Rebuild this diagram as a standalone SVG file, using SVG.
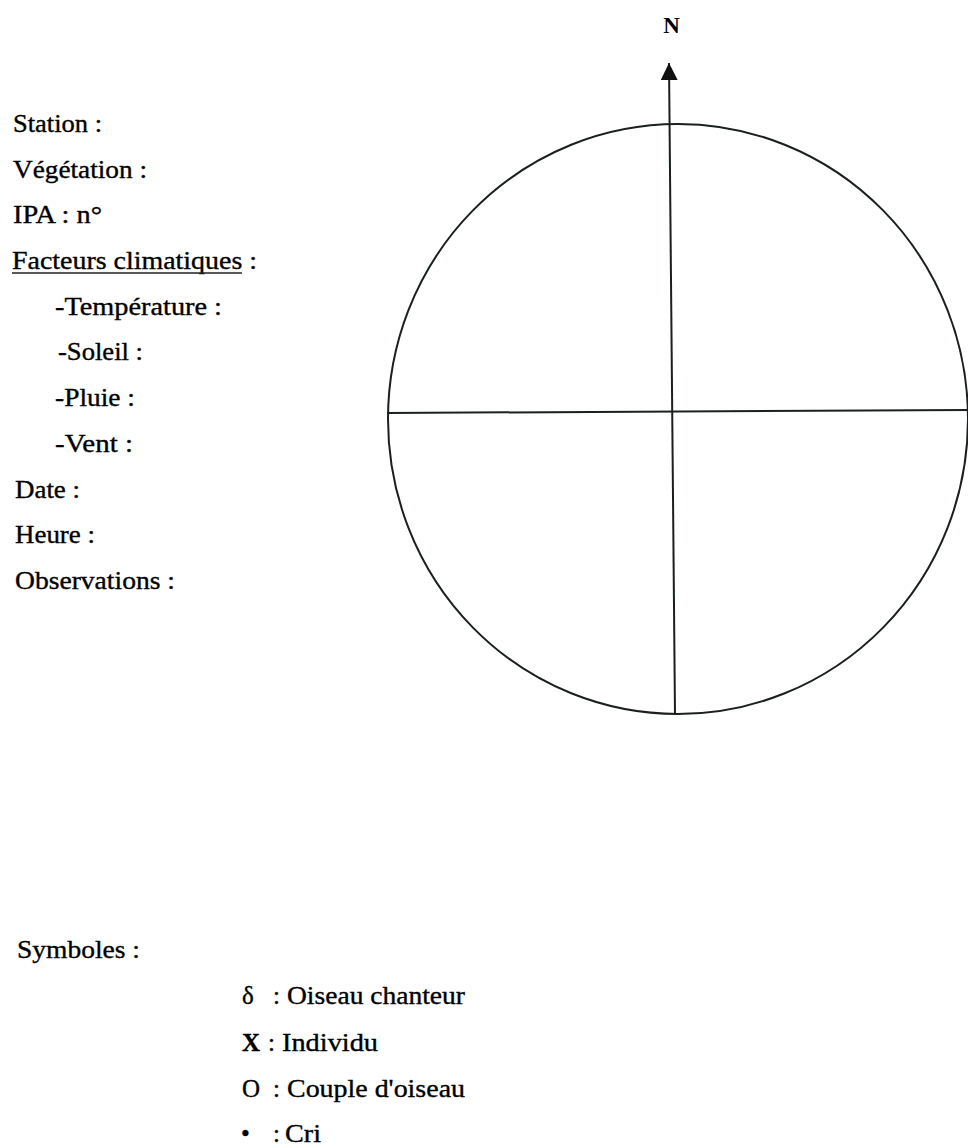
<svg xmlns="http://www.w3.org/2000/svg" width="968" height="1147" viewBox="0 0 968 1147">
<style>
.t{font-family:"Liberation Serif","Times New Roman",serif;font-size:25px;fill:#000;stroke:#000;stroke-width:0.35;}
.ln{stroke:#1a1f1f;stroke-width:2;fill:none;}
</style>
<defs>
<marker id="arr" markerWidth="17" markerHeight="17" refX="17" refY="8.5" orient="auto" markerUnits="userSpaceOnUse" viewBox="0 0 17 17">
<path d="M0,0 L17,8.5 L0,17 Z" fill="#111"/>
</marker>
</defs>
<rect width="968" height="1147" fill="#fff"/>
<g id="form-fields">
<text class="t" x="13" y="132" textLength="89" lengthAdjust="spacingAndGlyphs">Station :</text>
<text class="t" x="13" y="178" textLength="134" lengthAdjust="spacingAndGlyphs">Végétation :</text>
<text class="t" x="13" y="223" textLength="89" lengthAdjust="spacingAndGlyphs">IPA : n°</text>
<text class="t" x="12" y="269" textLength="245" lengthAdjust="spacingAndGlyphs">Facteurs climatiques :</text>
<line x1="12" y1="273" x2="242" y2="273" stroke="#222" stroke-width="1.5"/>
<text class="t" x="55" y="315" textLength="167" lengthAdjust="spacingAndGlyphs">-Température :</text>
<text class="t" x="58" y="360" textLength="85" lengthAdjust="spacingAndGlyphs">-Soleil :</text>
<text class="t" x="55" y="406" textLength="80" lengthAdjust="spacingAndGlyphs">-Pluie :</text>
<text class="t" x="55" y="452" textLength="78" lengthAdjust="spacingAndGlyphs">-Vent :</text>
<text class="t" x="15" y="498" textLength="65" lengthAdjust="spacingAndGlyphs">Date :</text>
<text class="t" x="15" y="543" textLength="80" lengthAdjust="spacingAndGlyphs">Heure :</text>
<text class="t" x="15" y="589" textLength="160" lengthAdjust="spacingAndGlyphs">Observations :</text>
</g>
<g id="compass">
<ellipse cx="678" cy="419" rx="290" ry="295" class="ln"/>
<text x="671.5" y="33" text-anchor="middle" style="font-family:'Liberation Serif',serif;font-size:23px;font-weight:bold;fill:#000">N</text>
</g>
<g id="connectors">
<line x1="675" y1="714" x2="669" y2="63" class="ln" marker-end="url(#arr)"/>
<line x1="387" y1="413" x2="968" y2="410" class="ln"/>
</g>
<g id="legend">
<text class="t" x="17" y="958" textLength="123" lengthAdjust="spacingAndGlyphs">Symboles :</text>
<g id="sym-chanteur">
<text class="t" x="242" y="1004">δ</text>
<text class="t" x="273" y="1004">:</text>
<text class="t" x="287" y="1004" textLength="178" lengthAdjust="spacingAndGlyphs">Oiseau chanteur</text>
</g>
<g id="sym-individu">
<text class="t" x="242" y="1051" style="font-weight:bold">X</text>
<text class="t" x="268" y="1051">:</text>
<text class="t" x="282" y="1051" textLength="96" lengthAdjust="spacingAndGlyphs">Individu</text>
</g>
<g id="sym-couple">
<text class="t" x="242" y="1097">O</text>
<text class="t" x="273" y="1097">:</text>
<text class="t" x="287" y="1097" textLength="178" lengthAdjust="spacingAndGlyphs">Couple d'oiseau</text>
</g>
<g id="sym-cri">
<text class="t" x="241" y="1142">•</text>
<text class="t" x="273" y="1142">:</text>
<text class="t" x="285" y="1142" textLength="36" lengthAdjust="spacingAndGlyphs">Cri</text>
</g>
</g>
</svg>
